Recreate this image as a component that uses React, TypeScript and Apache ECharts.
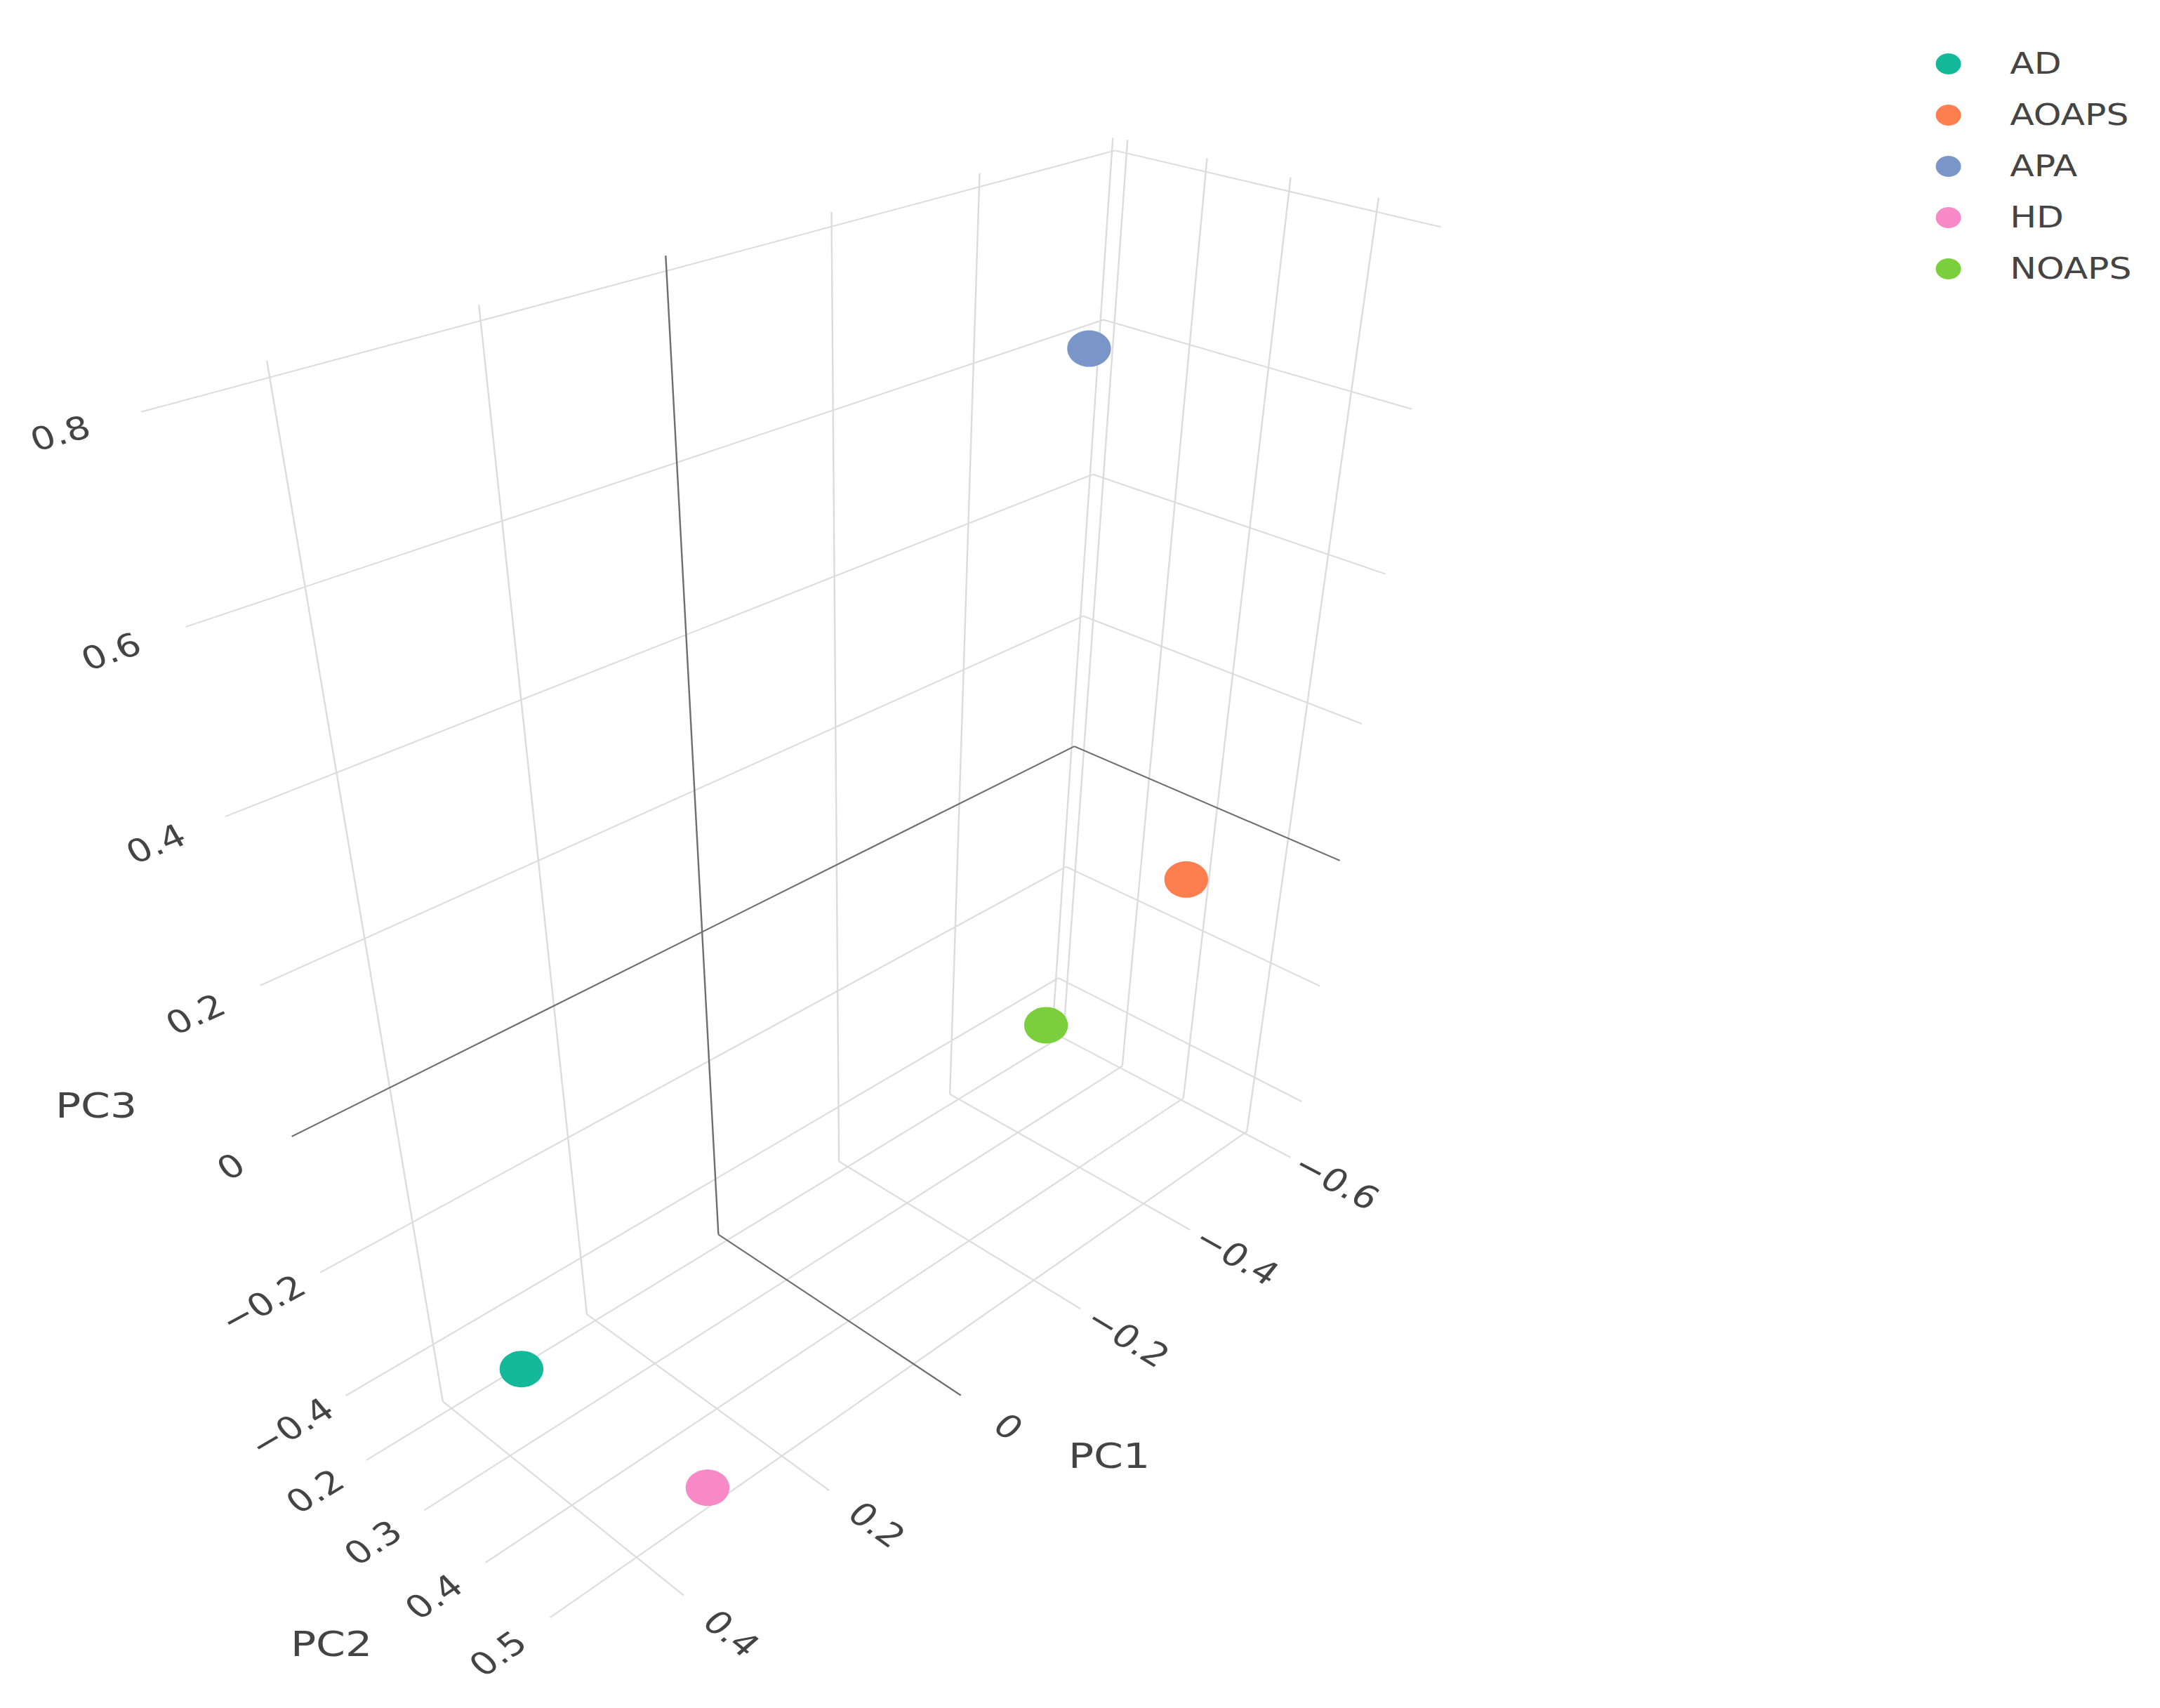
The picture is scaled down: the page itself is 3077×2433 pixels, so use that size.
import React, { useEffect, useRef } from "react";
import * as echarts from "echarts";

const FULL_W = 3077;
const FULL_H = 2433;
const STRETCH = 1.2;
const INNER_W = FULL_W / STRETCH;
const FONT = "DejaVu Sans";

// ---- data ----
const groups = ["AD", "AOAPS", "APA", "HD", "NOAPS"];
const groupColors = ["#14b89a", "#fd7f4f", "#7a96c9", "#f689c6", "#7ccf3c"];
const pc1 = [0.477, -0.5, -0.152, 0.352, -0.567];
const pc2 = [0.459, 0.441, 0.531, 0.559, 0.2];
const pc3 = [-0.162, -0.042, 0.776, -0.37, -0.459];

// ---- axes ----
const pc1Ticks = [-0.6, -0.4, -0.2, 0, 0.2, 0.4];
const pc2Ticks = [0.2, 0.3, 0.4, 0.5];
const pc3Ticks = [-0.4, -0.2, 0, 0.2, 0.4, 0.6, 0.8];

const pc1Range = [-0.605, 0.51];
const pc2Range = [0.185, 0.57];
const pc3Range = [-0.5, 0.815];

const X0 = pc1Range[0], X1 = pc1Range[1];
const Y0 = pc2Range[0], Y1 = pc2Range[1];
const Z0 = pc3Range[0], Z1 = pc3Range[1];

// perspective camera (3x4 projection matrix, data space -> page pixels)
const CAMERA = [
  [-1194.8, 649.9609, -269.6122, 838.2684],
  [172.0251, 188.2437, -1212.905, 1237.361],
  [-0.2319881, -0.2251814, -0.2199829, 1.0],
];

function project(x: number, y: number, z: number): [number, number] {
  const P = CAMERA;
  const w = P[2][0] * x + P[2][1] * y + P[2][2] * z + P[2][3];
  return [
    (P[0][0] * x + P[0][1] * y + P[0][2] * z + P[0][3]) / w,
    (P[1][0] * x + P[1][1] * y + P[1][2] * z + P[1][3]) / w,
  ];
}
function inner(x: number, y: number, z: number): [number, number] {
  const p = project(x, y, z);
  return [p[0] / STRETCH, p[1]];
}

type Seg = number[];
function buildSegments() {
  const gray: Seg[] = [];
  const zero: Seg[] = [];
  const push = (s: Seg, isZero: boolean) => (isZero ? zero : gray).push(s);
  pc1Ticks.forEach((v) => {
    push([v, Y0, Z0, v, Y0, Z1], v === 0);
    push([v, Y0, Z0, v, Y1, Z0], v === 0);
  });
  pc2Ticks.forEach((v) => {
    push([X0, v, Z0, X0, v, Z1], false);
    push([X0, v, Z0, X1, v, Z0], false);
  });
  pc3Ticks.forEach((v) => {
    push([X0, Y0, v, X1, Y0, v], v === 0);
    push([X0, Y0, v, X0, Y1, v], v === 0);
  });
  return { gray, zero };
}

function fmt(v: number) {
  if (v === 0) return "0";
  return (v < 0 ? "\u2212" : "") + String(Math.abs(v));
}

const TICK_SIZE = 45;

function buildLabels() {
  const items: { pos3: number[]; rot: number; text: string }[] = [];
  const add = (pos3: number[], a: number[], b: number[], text: string) => {
    const pa = inner(a[0], a[1], a[2]);
    const pb = inner(b[0], b[1], b[2]);
    const rot = Math.atan2(-(pb[1] - pa[1]), pb[0] - pa[0]);
    items.push({ pos3, rot, text });
  };
  pc1Ticks.forEach((v) => add([v, Y1 + 0.068, Z0], [v, Y1, Z0], [v, Y1 + 0.1, Z0], fmt(v)));
  pc2Ticks.forEach((v) => add([X1 + 0.063, v, Z0], [X1 + 0.1, v, Z0], [X1, v, Z0], fmt(v)));
  pc3Ticks.forEach((v) => add([X1 + 0.065, Y0, v], [X1 + 0.1, Y0, v], [X1, Y0, v], fmt(v)));
  return items;
}

const axisTitles = [
  { text: "PC1", x: 1580, y: 2074 },
  { text: "PC2", x: 472, y: 2342 },
  { text: "PC3", x: 137, y: 1575 },
];

function buildOption() {
  const { gray, zero } = buildSegments();
  const labels = buildLabels();
  const lineRender = (color: string, width: number) => (params: any, api: any) => {
    const pa = api.coord(inner(api.value(0), api.value(1), api.value(2)));
    const pb = api.coord(inner(api.value(3), api.value(4), api.value(5)));
    return {
      type: "line",
      shape: { x1: pa[0], y1: pa[1], x2: pb[0], y2: pb[1] },
      style: { stroke: color, lineWidth: width },
    };
  };

  return {
    animation: false,
    backgroundColor: "#ffffff",
    grid: { left: 0, top: 0, width: INNER_W, height: FULL_H, containLabel: false },
    xAxis: { type: "value", min: 0, max: INNER_W, show: false },
    yAxis: { type: "value", min: 0, max: FULL_H, inverse: true, show: false },
    legend: {
      orient: "vertical",
      left: 2298,
      top: 70,
      padding: 0,
      itemWidth: 30,
      itemHeight: 30,
      itemGap: 31,
      icon: "circle",
      data: groups,
      textStyle: { fontSize: 42, color: "#444", fontFamily: FONT, padding: [0, 0, 0, 53] },
    },
    graphic: axisTitles.map((t) => ({
      type: "text",
      x: t.x / STRETCH,
      y: t.y,
      style: { text: t.text, fontSize: 50, fontFamily: FONT, fill: "#444", align: "center", verticalAlign: "middle" },
    })),
    series: [
      { type: "custom", coordinateSystem: "cartesian2d", silent: true, z: 1, data: gray, renderItem: lineRender("#dcdcdc", 2) },
      { type: "custom", coordinateSystem: "cartesian2d", silent: true, z: 2, data: zero, renderItem: lineRender("#6e6e6e", 2) },
      {
        type: "custom",
        coordinateSystem: "cartesian2d",
        silent: true,
        z: 3,
        data: labels.map((l) => l.pos3),
        renderItem: (params: any, api: any) => {
          const L = labels[params.dataIndex];
          const c = api.coord(inner(api.value(0), api.value(1), api.value(2)));
          return {
            type: "text",
            x: c[0],
            y: c[1],
            rotation: L.rot,
            style: { text: L.text, fill: "#444", fontSize: TICK_SIZE, fontFamily: FONT, align: "center", verticalAlign: "middle" },
          };
        },
      },
      ...groups.map((g, i) => ({
        type: "scatter",
        name: g,
        z: 5,
        symbol: "circle",
        symbolSize: 52,
        itemStyle: { color: groupColors[i], opacity: 1 },
        data: [inner(pc1[i], pc2[i], pc3[i])],
      })),
    ],
  };
}

export default function App() {
  const ref = useRef<HTMLDivElement>(null);
  useEffect(() => {
    document.body.style.margin = "0";
    const chart = echarts.init(ref.current!, undefined, { renderer: "svg", width: INNER_W, height: FULL_H });
    chart.setOption(buildOption() as any);
    return () => chart.dispose();
  }, []);
  return (
    <div
      ref={ref}
      style={{ width: INNER_W, height: FULL_H, transform: `scaleX(${STRETCH})`, transformOrigin: "0 0" }}
    />
  );
}
